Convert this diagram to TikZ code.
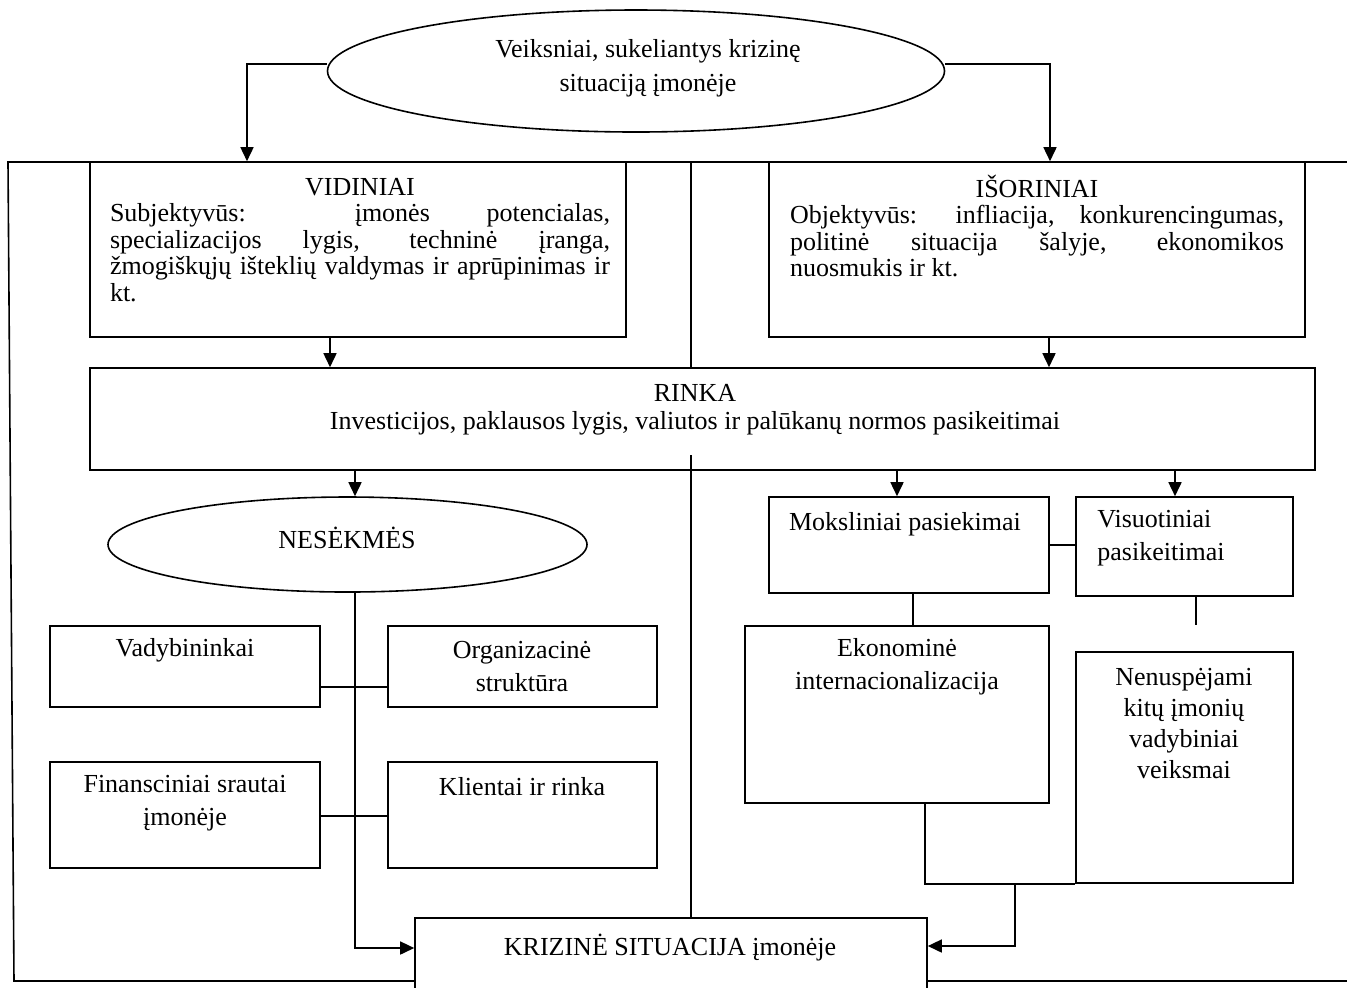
\documentclass[tikz,border=0pt]{standalone}
\usepackage{fontspec}
\setmainfont{Liberation Serif}
\usetikzlibrary{arrows.meta,shapes.geometric,fit}
\begin{document}
\begin{tikzpicture}[x=0.5pt,y=-0.5pt,
  box/.style={draw, line width=0.8pt, inner sep=0pt},
  oval/.style={draw, line width=0.8pt, ellipse, inner sep=0pt},
  txt/.style={inner sep=0pt, align=center, font=\fontsize{13pt}{16.5pt}\selectfont},
  conn/.style={line width=0.8pt},
  arr/.style={line width=0.8pt, -{Triangle[length=7pt,width=6.5pt]}}]
\clip (0,0) rectangle (1347,987);
\fill[white] (0,0) rectangle (1347,987);

% nodes
\node[oval, minimum width=308.5pt, minimum height=61pt] (top) at (636,71) {};
\node[txt, font=\fontsize{13pt}{17pt}\selectfont] (toptxt) at (648,68) {Veiksniai, sukeliantys krizinę\\situaciją įmonėje};

\node[box, fit={(90,162)(626,337)}] (vid) {};
\node[txt, align=left, font=\fontsize{13pt}{13.25pt}\selectfont] (vidtxt) at (360,240) {%
\makebox[250pt][c]{VIDINIAI}\\
\makebox[250pt][s]{Subjektyvūs: įmonės potencialas,}\\
\makebox[250pt][s]{specializacijos lygis, techninė įranga,}\\
\makebox[250pt][s]{žmogiškųjų išteklių valdymas ir aprūpinimas ir}\\
\makebox[250pt][l]{kt.}};

\node[box, fit={(769,162)(1305,337)}] (isor) {};
\node[txt, align=left, font=\fontsize{13pt}{13.25pt}\selectfont] (isortxt) at (1037,226) {%
\makebox[247pt][c]{IŠORINIAI}\\
\makebox[247pt][s]{Objektyvūs: infliacija, konkurencingumas,}\\
\makebox[247pt][s]{politinė situacija šalyje, ekonomikos}\\
\makebox[247pt][l]{nuosmukis ir kt.}};

\node[box, fit={(90,368)(1315,470)}] (rinka) {};
\node[txt, font=\fontsize{13pt}{14pt}\selectfont] (rinkatxt) at (695,410) {RINKA\\Investicijos, paklausos lygis, valiutos ir palūkanų normos pasikeitimai};

\node[oval, minimum width=239.5pt, minimum height=47.5pt] (nes) at (347.5,544.5) {};
\node[txt] (nestxt) at (347,538) {NESĖKMĖS};

\node[box, fit={(50,626)(320,707)}] (vad) {};
\node[txt] (vadtxt) at (185,650) {Vadybininkai};
\node[box, fit={(388,626)(657,707)}] (org) {};
\node[txt] (orgtxt) at (522,666.5) {Organizacinė\\struktūra};
\node[box, fit={(50,762)(320,868)}] (fin) {};
\node[txt] (fintxt) at (185,803.5) {Finansciniai srautai\\įmonėje};
\node[box, fit={(388,762)(657,868)}] (kli) {};
\node[txt] (klitxt) at (522,787) {Klientai ir rinka};

\node[box, fit={(769,497)(1049,593)}] (mok) {};
\node[txt] (moktxt) at (905,524) {Moksliniai pasiekimai};
\node[box, fit={(1076,497)(1293,596)}] (vis) {};
\node[txt, align=left, anchor=west] (vistxt) at (1097,538.5) {Visuotiniai\\pasikeitimai};
\node[box, fit={(745,626)(1049,803)}] (eko) {};
\node[txt] (ekotxt) at (897,666.5) {Ekonominė\\internacionalizacija};
\node[box, fit={(1076,652)(1293,883)}] (nen) {};
\node[txt, font=\fontsize{13pt}{15.5pt}\selectfont] (nentxt) at (1184,723.5) {Nenuspėjami\\kitų įmonių\\vadybiniai\\veiksmai};

\node[box, fit={(415,918)(927,1010)}] (kriz) {};
\node[txt] (kriztxt) at (670,948) {KRIZINĖ SITUACIJA įmonėje};

% coordinates
\coordinate (tl) at (247,64);
\coordinate (tr) at (1050,64);
\coordinate (f1) at (8,162);
\coordinate (f2) at (14,981);
\coordinate (f3) at (1347,162);
\coordinate (f4) at (1347,981);
\coordinate (d1) at (691,162);
\coordinate (d2) at (691,455);
\coordinate (a1) at (330,0);
\coordinate (a2) at (1049,0);
\coordinate (a3) at (355,0);
\coordinate (a4) at (897,0);
\coordinate (a5) at (1175,0);
\coordinate (a6) at (913,0);
\coordinate (a7) at (1196,625);
\coordinate (a8) at (925,0);
\coordinate (a9) at (1015,946);
\coordinate (k1) at (355,948);
\coordinate (h1) at (0,687);
\coordinate (h2) at (0,816);
\coordinate (h3) at (0,545);

% connectors
\draw[arr] (top.west |- tl) -- (tl) -- (vid.north -| tl);
\draw[arr] (top.east |- tr) -- (tr) -- (isor.north -| tr);
\draw[conn] (f3) -- (f1) -- (f2) -- (kriz.west |- f2);
\draw[conn] (kriz.east |- f4) -- (f4);
\draw[conn] (d1) -- (rinka.north -| d1);
\draw[conn] (d2) -- (kriz.north -| d2);
\draw[arr] (vid.south -| a1) -- (rinka.north -| a1);
\draw[arr] (isor.south -| a2) -- (rinka.north -| a2);
\draw[arr] (rinka.south -| a3) -- (nes.north -| a3);
\draw[arr] (rinka.south -| a4) -- (mok.north -| a4);
\draw[arr] (rinka.south -| a5) -- (vis.north -| a5);
\draw[arr] (nes.south -| a3) -- (k1) -- (kriz.west |- k1);
\draw[conn] (vad.east |- h1) -- (org.west |- h1);
\draw[conn] (fin.east |- h2) -- (kli.west |- h2);
\draw[conn] (mok.east |- h3) -- (vis.west |- h3);
\draw[conn] (mok.south -| a6) -- (eko.north -| a6);
\draw[conn] (vis.south -| a7) -- (a7);
\draw[conn] (eko.south -| a8) -- (nen.south -| a8) -- (nen.south west);
\draw[arr] (nen.south -| a9) -- (a9) -- (kriz.east |- a9);
\end{tikzpicture}
\end{document}
